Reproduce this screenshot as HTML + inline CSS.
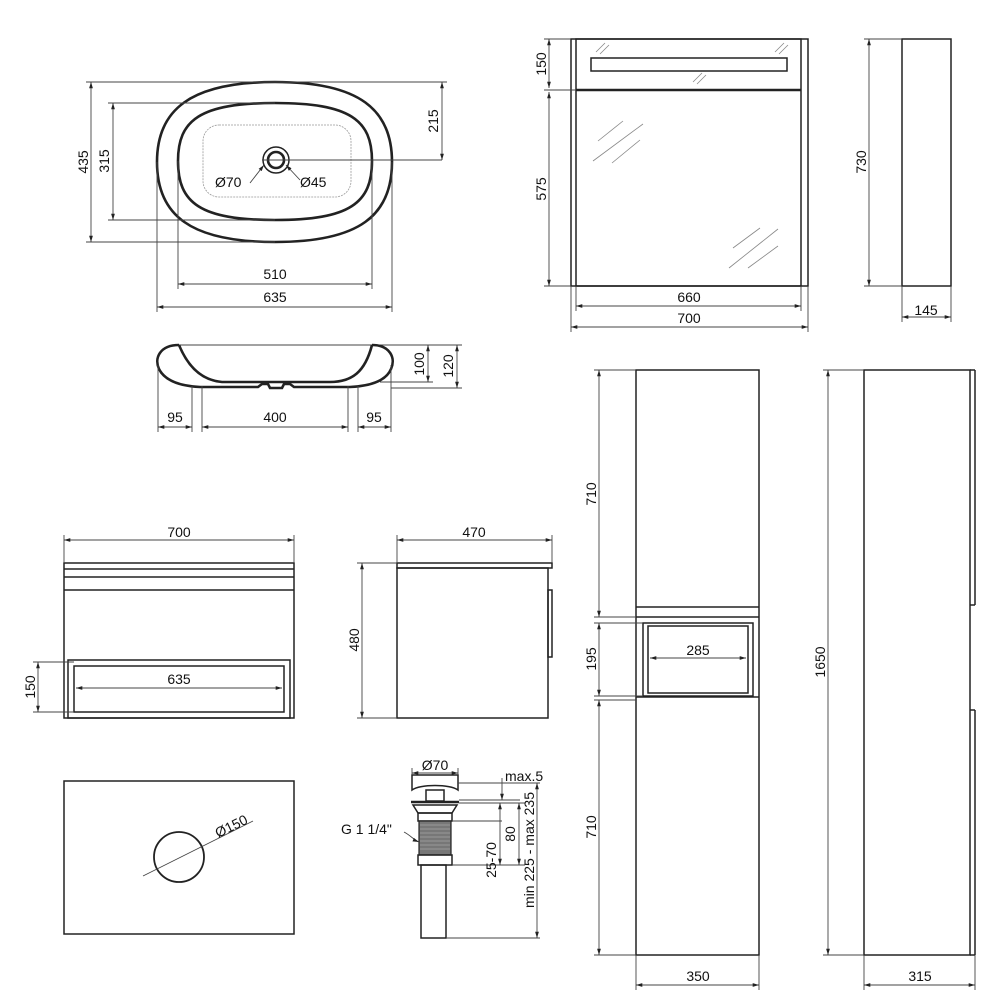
<!DOCTYPE html>
<html><head><meta charset="utf-8"><style>
html,body{margin:0;padding:0;background:#fff}
svg{display:block}
text{font-family:"Liberation Sans",Arial,sans-serif;font-size:14px;fill:#111}
.l{stroke:#222;stroke-width:1.5;fill:none}
.t{stroke:#222;stroke-width:2.6;fill:none}
.d{stroke:#444;stroke-width:0.9;fill:none}
.g{stroke:#888;stroke-width:0.8;fill:none}
</style></head><body>
<svg width="1000" height="1000" viewBox="0 0 1000 1000" xmlns="http://www.w3.org/2000/svg">
<defs>
<marker id="a" viewBox="0 0 10 10" refX="10" refY="5" markerWidth="7" markerHeight="7" orient="auto-start-reverse"><path d="M0,2 L10,5 L0,8 z" fill="#222"/></marker>
</defs>
<g id="basintop">
<path class="t" d="M275,82 C360,82 392,110 392,162 C392,215 360,242 275,242 C190,242 157,215 157,162 C157,110 190,82 275,82 Z"/>
<path class="t" d="M275,103 C350,103 372,120 372,161 C372,203 350,220 275,220 C200,220 178,203 178,161 C178,120 200,103 275,103 Z"/>
<rect x="203" y="125" width="148" height="72" rx="16" style="stroke:#999;stroke-width:0.8;fill:none;stroke-dasharray:2 1"/>
<circle cx="276" cy="160" r="13" class="l"/>
<circle cx="276" cy="160" r="8" class="t"/>
<line class="d" x1="262" y1="160" x2="442" y2="160"/>
<line class="d" x1="250" y1="183" x2="264" y2="165" marker-end="url(#a)"/>
<line class="d" x1="300" y1="180" x2="286" y2="165" marker-end="url(#a)"/>
<text x="215" y="187">Ø70</text><text x="300" y="187">Ø45</text>
<line class="d" x1="86" y1="82" x2="275" y2="82"/><line class="d" x1="86" y1="242" x2="275" y2="242"/>
<line class="d" x1="91" y1="82" x2="91" y2="242" marker-start="url(#a)" marker-end="url(#a)"/>
<text transform="translate(88,162) rotate(-90)" text-anchor="middle">435</text>
<line class="d" x1="108" y1="103" x2="275" y2="103"/><line class="d" x1="108" y1="220" x2="275" y2="220"/>
<line class="d" x1="113" y1="103" x2="113" y2="220" marker-start="url(#a)" marker-end="url(#a)"/>
<text transform="translate(109,161) rotate(-90)" text-anchor="middle">315</text>
<line class="d" x1="275" y1="82" x2="447" y2="82"/>
<line class="d" x1="442" y1="82" x2="442" y2="160" marker-start="url(#a)" marker-end="url(#a)"/>
<text transform="translate(438,121) rotate(-90)" text-anchor="middle">215</text>
<line class="d" x1="178" y1="161" x2="178" y2="289"/><line class="d" x1="372" y1="161" x2="372" y2="289"/>
<line class="d" x1="178" y1="284" x2="372" y2="284" marker-start="url(#a)" marker-end="url(#a)"/>
<text x="275" y="279" text-anchor="middle">510</text>
<line class="d" x1="157" y1="162" x2="157" y2="312"/><line class="d" x1="392" y1="162" x2="392" y2="312"/>
<line class="d" x1="157" y1="307" x2="392" y2="307" marker-start="url(#a)" marker-end="url(#a)"/>
<text x="275" y="302" text-anchor="middle">635</text>
</g>
<g id="basinside">
<line class="d" x1="179" y1="345" x2="462" y2="345"/>
<path class="t" d="M179,345 C160,345 154,358 159,369 C165,381 180,386 200,387 L258,387 L262,384 L268,384 L270,388 L282,388 L284,384 L290,384 L294,387 L350,387 C370,386 386,381 391,369 C396,358 390,345 372,345"/>
<path class="t" d="M179,345 C186,362 198,380 222,382 L330,382 C352,382 365,372 372,345"/>
<line class="d" x1="380" y1="382" x2="433" y2="382"/><line class="d" x1="391" y1="388" x2="462" y2="388"/>
<line class="d" x1="428" y1="345" x2="428" y2="382" marker-start="url(#a)" marker-end="url(#a)"/>
<line class="d" x1="457" y1="345" x2="457" y2="388" marker-start="url(#a)" marker-end="url(#a)"/>
<text transform="translate(424,364) rotate(-90)" text-anchor="middle">100</text>
<text transform="translate(453,366) rotate(-90)" text-anchor="middle">120</text>
<line class="d" x1="158" y1="365" x2="158" y2="432"/><line class="d" x1="192" y1="386" x2="192" y2="432"/><line class="d" x1="202" y1="386" x2="202" y2="432"/>
<line class="d" x1="348" y1="386" x2="348" y2="432"/><line class="d" x1="358" y1="386" x2="358" y2="432"/><line class="d" x1="391" y1="365" x2="391" y2="432"/>
<line class="d" x1="158" y1="427" x2="192" y2="427" marker-start="url(#a)" marker-end="url(#a)"/>
<line class="d" x1="202" y1="427" x2="348" y2="427" marker-start="url(#a)" marker-end="url(#a)"/>
<line class="d" x1="358" y1="427" x2="391" y2="427" marker-start="url(#a)" marker-end="url(#a)"/>
<text x="175" y="422" text-anchor="middle">95</text><text x="275" y="422" text-anchor="middle">400</text><text x="374" y="422" text-anchor="middle">95</text>
</g>
<g id="mirror">
<rect class="l" x="571" y="39" width="237" height="247"/>
<rect class="l" x="576" y="39" width="225" height="247"/>
<line class="t" x1="576" y1="90" x2="801" y2="90"/>
<rect class="l" x="591" y="58" width="196" height="13"/>
<g class="g">
<line x1="596" y1="52" x2="605" y2="43"/><line x1="600" y1="54" x2="609" y2="45"/>
<line x1="775" y1="52" x2="784" y2="43"/><line x1="779" y1="54" x2="788" y2="45"/>
<line x1="693" y1="82" x2="702" y2="73"/><line x1="697" y1="84" x2="706" y2="75"/>
<line x1="598" y1="141" x2="623" y2="121"/><line x1="593" y1="161" x2="643" y2="124"/><line x1="612" y1="163" x2="640" y2="140"/>
<line x1="733" y1="248" x2="760" y2="228"/><line x1="729" y1="268" x2="778" y2="229"/><line x1="748" y1="268" x2="778" y2="246"/>
</g>
<line class="d" x1="544" y1="39" x2="571" y2="39"/><line class="d" x1="544" y1="90" x2="576" y2="90"/><line class="d" x1="544" y1="286" x2="571" y2="286"/>
<line class="d" x1="549" y1="39" x2="549" y2="88" marker-start="url(#a)" marker-end="url(#a)"/>
<line class="d" x1="549" y1="92" x2="549" y2="286" marker-start="url(#a)" marker-end="url(#a)"/>
<text transform="translate(546,64) rotate(-90)" text-anchor="middle">150</text>
<text transform="translate(546,189) rotate(-90)" text-anchor="middle">575</text>
<line class="d" x1="576" y1="286" x2="576" y2="311"/><line class="d" x1="801" y1="286" x2="801" y2="311"/>
<line class="d" x1="571" y1="286" x2="571" y2="332"/><line class="d" x1="808" y1="286" x2="808" y2="332"/>
<line class="d" x1="576" y1="306" x2="801" y2="306" marker-start="url(#a)" marker-end="url(#a)"/>
<line class="d" x1="571" y1="327" x2="808" y2="327" marker-start="url(#a)" marker-end="url(#a)"/>
<text x="689" y="302" text-anchor="middle">660</text><text x="689" y="323" text-anchor="middle">700</text>
<rect class="l" x="902" y="39" width="49" height="247"/>
<line class="d" x1="864" y1="39" x2="902" y2="39"/><line class="d" x1="864" y1="286" x2="902" y2="286"/>
<line class="d" x1="869" y1="39" x2="869" y2="286" marker-start="url(#a)" marker-end="url(#a)"/>
<text transform="translate(866,162) rotate(-90)" text-anchor="middle">730</text>
<line class="d" x1="902" y1="286" x2="902" y2="322"/><line class="d" x1="951" y1="286" x2="951" y2="322"/>
<line class="d" x1="902" y1="317" x2="951" y2="317" marker-start="url(#a)" marker-end="url(#a)"/>
<text x="926" y="315" text-anchor="middle">145</text>
</g>
<g id="tall">
<rect class="l" x="636" y="370" width="123" height="585"/>
<line class="l" x1="636" y1="607" x2="759" y2="607"/>
<line class="l" x1="636" y1="617" x2="759" y2="617"/>
<rect class="l" x="643" y="623" width="110" height="73"/>
<rect class="l" x="648" y="626" width="100" height="67"/>
<line class="l" x1="636" y1="697" x2="759" y2="697"/>
<line class="d" x1="594" y1="370" x2="636" y2="370"/><line class="d" x1="594" y1="617" x2="636" y2="617"/>
<line class="d" x1="594" y1="623" x2="643" y2="623"/><line class="d" x1="594" y1="696" x2="643" y2="696"/>
<line class="d" x1="594" y1="700" x2="636" y2="700"/><line class="d" x1="594" y1="955" x2="636" y2="955"/>
<line class="d" x1="599" y1="370" x2="599" y2="617" marker-start="url(#a)" marker-end="url(#a)"/>
<line class="d" x1="599" y1="623" x2="599" y2="696" marker-start="url(#a)" marker-end="url(#a)"/>
<line class="d" x1="599" y1="700" x2="599" y2="955" marker-start="url(#a)" marker-end="url(#a)"/>
<text transform="translate(596,494) rotate(-90)" text-anchor="middle">710</text>
<text transform="translate(596,659) rotate(-90)" text-anchor="middle">195</text>
<text transform="translate(596,827) rotate(-90)" text-anchor="middle">710</text>
<line class="d" x1="650" y1="658" x2="746" y2="658" marker-start="url(#a)" marker-end="url(#a)"/>
<text x="698" y="655" text-anchor="middle">285</text>
<line class="d" x1="636" y1="955" x2="636" y2="990"/><line class="d" x1="759" y1="955" x2="759" y2="990"/>
<line class="d" x1="636" y1="985" x2="759" y2="985" marker-start="url(#a)" marker-end="url(#a)"/>
<text x="698" y="981" text-anchor="middle">350</text>
<rect class="l" x="864" y="370" width="106" height="585"/>
<line class="l" x1="970" y1="370" x2="975" y2="370"/>
<line class="l" x1="975" y1="370" x2="975" y2="605"/>
<line class="l" x1="970" y1="605" x2="975" y2="605"/>
<line class="l" x1="975" y1="710" x2="975" y2="955"/>
<line class="l" x1="970" y1="710" x2="975" y2="710"/>
<line class="l" x1="970" y1="955" x2="975" y2="955"/>
<line class="d" x1="823" y1="370" x2="864" y2="370"/><line class="d" x1="823" y1="955" x2="864" y2="955"/>
<line class="d" x1="828" y1="370" x2="828" y2="955" marker-start="url(#a)" marker-end="url(#a)"/>
<text transform="translate(825,662) rotate(-90)" text-anchor="middle">1650</text>
<line class="d" x1="864" y1="955" x2="864" y2="990"/><line class="d" x1="975" y1="955" x2="975" y2="990"/>
<line class="d" x1="864" y1="985" x2="975" y2="985" marker-start="url(#a)" marker-end="url(#a)"/>
<text x="920" y="981" text-anchor="middle">315</text>
</g>
<g id="vanity">
<rect class="l" x="64" y="563" width="230" height="155"/>
<line class="l" x1="64" y1="569" x2="294" y2="569"/>
<line class="l" x1="64" y1="577" x2="294" y2="577"/>
<line class="l" x1="64" y1="590" x2="294" y2="590"/>
<rect class="l" x="68" y="660" width="222" height="58"/>
<rect class="l" x="74" y="666" width="210" height="46"/>
<line class="d" x1="64" y1="535" x2="64" y2="563"/><line class="d" x1="294" y1="535" x2="294" y2="563"/>
<line class="d" x1="64" y1="540" x2="294" y2="540" marker-start="url(#a)" marker-end="url(#a)"/>
<text x="179" y="537" text-anchor="middle">700</text>
<line class="d" x1="76" y1="688" x2="282" y2="688" marker-start="url(#a)" marker-end="url(#a)"/>
<text x="179" y="684" text-anchor="middle">635</text>
<line class="d" x1="33" y1="662" x2="74" y2="662"/><line class="d" x1="33" y1="712" x2="74" y2="712"/>
<line class="d" x1="38" y1="662" x2="38" y2="712" marker-start="url(#a)" marker-end="url(#a)"/>
<text transform="translate(35,687) rotate(-90)" text-anchor="middle">150</text>
<rect class="l" x="397" y="563" width="155" height="5"/>
<rect class="l" x="397" y="568" width="151" height="150"/>
<rect class="l" x="548" y="590" width="4" height="67"/>
<line class="d" x1="397" y1="535" x2="397" y2="563"/><line class="d" x1="552" y1="535" x2="552" y2="563"/>
<line class="d" x1="397" y1="540" x2="552" y2="540" marker-start="url(#a)" marker-end="url(#a)"/>
<text x="474" y="537" text-anchor="middle">470</text>
<line class="d" x1="357" y1="563" x2="397" y2="563"/><line class="d" x1="357" y1="718" x2="397" y2="718"/>
<line class="d" x1="362" y1="563" x2="362" y2="718" marker-start="url(#a)" marker-end="url(#a)"/>
<text transform="translate(359,640) rotate(-90)" text-anchor="middle">480</text>
</g>
<g id="plate">
<rect class="l" x="64" y="781" width="230" height="153"/>
<circle class="l" cx="179" cy="857" r="25" style="stroke-width:1.8"/>
<line class="d" x1="143" y1="876" x2="253" y2="821"/>
<text transform="translate(218,838) rotate(-26)">Ø150</text>
</g>
<g id="drain">
<path class="l" d="M412,790 L412,775 L458,775 L458,790 C450,784 420,784 412,790 Z"/>
<line class="d" x1="412" y1="775" x2="412" y2="768"/><line class="d" x1="458" y1="775" x2="458" y2="768"/>
<line class="d" x1="412" y1="773" x2="458" y2="773" marker-start="url(#a)" marker-end="url(#a)"/>
<text x="435" y="770" text-anchor="middle">Ø70</text>
<rect class="l" x="426" y="790" width="18" height="11"/>
<path class="t" d="M411,802 L459,802"/>
<path class="l" d="M413,805 L457,805 L452,813 L418,813 Z"/>
<rect class="l" x="418" y="813" width="34" height="8"/>
<rect x="419" y="821" width="32" height="34" fill="#777" stroke="#222" stroke-width="1.2"/>
<g stroke="#bbb" stroke-width="0.6"><line x1="420" y1="825" x2="450" y2="825"/><line x1="420" y1="829" x2="450" y2="829"/><line x1="420" y1="833" x2="450" y2="833"/><line x1="420" y1="837" x2="450" y2="837"/><line x1="420" y1="841" x2="450" y2="841"/><line x1="420" y1="845" x2="450" y2="845"/><line x1="420" y1="849" x2="450" y2="849"/></g>
<rect class="l" x="418" y="855" width="34" height="10"/>
<rect class="l" x="421" y="865" width="25" height="73"/>
<line class="d" x1="458" y1="783" x2="540" y2="783"/>
<line class="d" x1="459" y1="800" x2="520" y2="800"/>
<line class="d" x1="459" y1="803" x2="525" y2="803"/>
<line class="d" x1="452" y1="821" x2="502" y2="821"/>
<line class="d" x1="452" y1="865" x2="525" y2="865"/>
<line class="d" x1="446" y1="938" x2="540" y2="938"/>
<line class="d" x1="502" y1="778" x2="502" y2="800" marker-end="url(#a)"/>
<text x="505" y="781">max.5</text>
<line class="d" x1="500" y1="803" x2="500" y2="865" marker-start="url(#a)" marker-end="url(#a)"/>
<line class="d" x1="519" y1="803" x2="519" y2="865" marker-start="url(#a)" marker-end="url(#a)"/>
<line class="d" x1="537" y1="783" x2="537" y2="938" marker-start="url(#a)" marker-end="url(#a)"/>
<text transform="translate(496,860) rotate(-90)" text-anchor="middle">25-70</text>
<text transform="translate(515,834) rotate(-90)" text-anchor="middle">80</text>
<text transform="translate(534,850) rotate(-90)" text-anchor="middle">min 225 - max 235</text>
<text x="341" y="834">G 1 1/4"</text>
<path class="d" d="M404,832 C410,835 414,840 419,842" marker-end="url(#a)"/>
</g>
</svg>
</body></html>
